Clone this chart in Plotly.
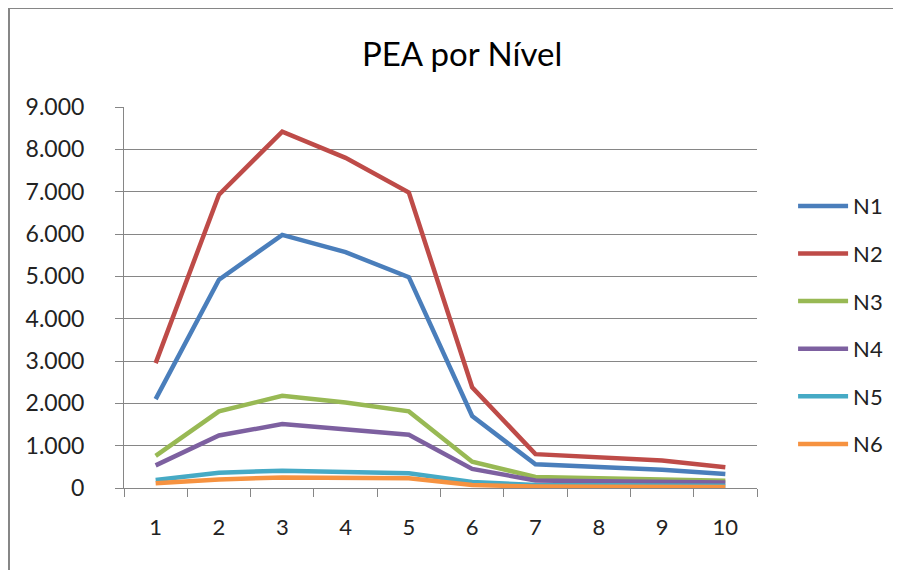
import plotly.graph_objects as go

categories = ["1", "2", "3", "4", "5", "6", "7", "8", "9", "10"]
series_names = ["N1", "N2", "N3", "N4", "N5", "N6"]
n1 = [2100, 4920, 5980, 5570, 4980, 1700, 560, 500, 430, 330]
n2 = [2950, 6930, 8420, 7800, 6980, 2380, 800, 720, 650, 490]
n3 = [760, 1810, 2180, 2020, 1810, 620, 260, 220, 200, 170]
n4 = [535, 1240, 1510, 1390, 1260, 450, 180, 160, 150, 130]
n5 = [190, 360, 410, 380, 350, 140, 70, 65, 60, 55]
n6 = [110, 200, 250, 230, 230, 70, 35, 30, 30, 25]
colors = ["#4A7EBB", "#BE4B48", "#98B954", "#7D60A0", "#46AAC5", "#F69240"]
y_ticks = [0, 1000, 2000, 3000, 4000, 5000, 6000, 7000, 8000, 9000]

fig = go.Figure()
for name, vals, col in zip(series_names, [n1, n2, n3, n4, n5, n6], colors):
    fig.add_trace(go.Scatter(x=categories, y=vals, name=name, mode="lines",
                             legendgroup=name,
                             line=dict(color=col, width=4.5)))

tick_font = dict(family="Lato", size=22, color="#222222")
fig.update_layout(
    width=901, height=570,
    paper_bgcolor="white", plot_bgcolor="white",
    margin=dict(l=116, r=152, t=99, b=90),
    separators=",.",
    title=dict(text="PEA por Nível", x=0.504, xanchor="center", y=0.918, yanchor="middle",
               xref="container", yref="container",
               font=dict(family="Lato", size=33, color="#000000")),
    xaxis=dict(type="category", tickson="boundaries", ticks="outside", ticklen=8,
               tickcolor="#868686", showline=True, linecolor="#868686", linewidth=1,
               showgrid=False, tickfont=tick_font, range=[-0.5, 9.5],
               ticklabelstandoff=20),
    yaxis=dict(range=[0, 9000], tickvals=y_ticks, tickformat=",d", ticks="outside",
               ticklen=8, tickcolor="#868686", showline=True, linecolor="#868686",
               gridcolor="#868686", gridwidth=1, zeroline=False,
               tickfont=dict(family="Lato", size=23, color="#222222"),
               ticklabelstandoff=26),
    legend=dict(x=1.057, y=0.795, xanchor="left", yanchor="top", tracegroupgap=16,
                font=dict(family="Lato", size=22, color="#222222"),
                itemwidth=50),
    showlegend=True,
    shapes=[dict(type="rect", xref="paper", yref="paper", x0=-0.1817, x1=1.45,
                 y0=-0.5, y1=1.26, line=dict(color="#868686", width=2))],
)
fig.write_html("out.html")
